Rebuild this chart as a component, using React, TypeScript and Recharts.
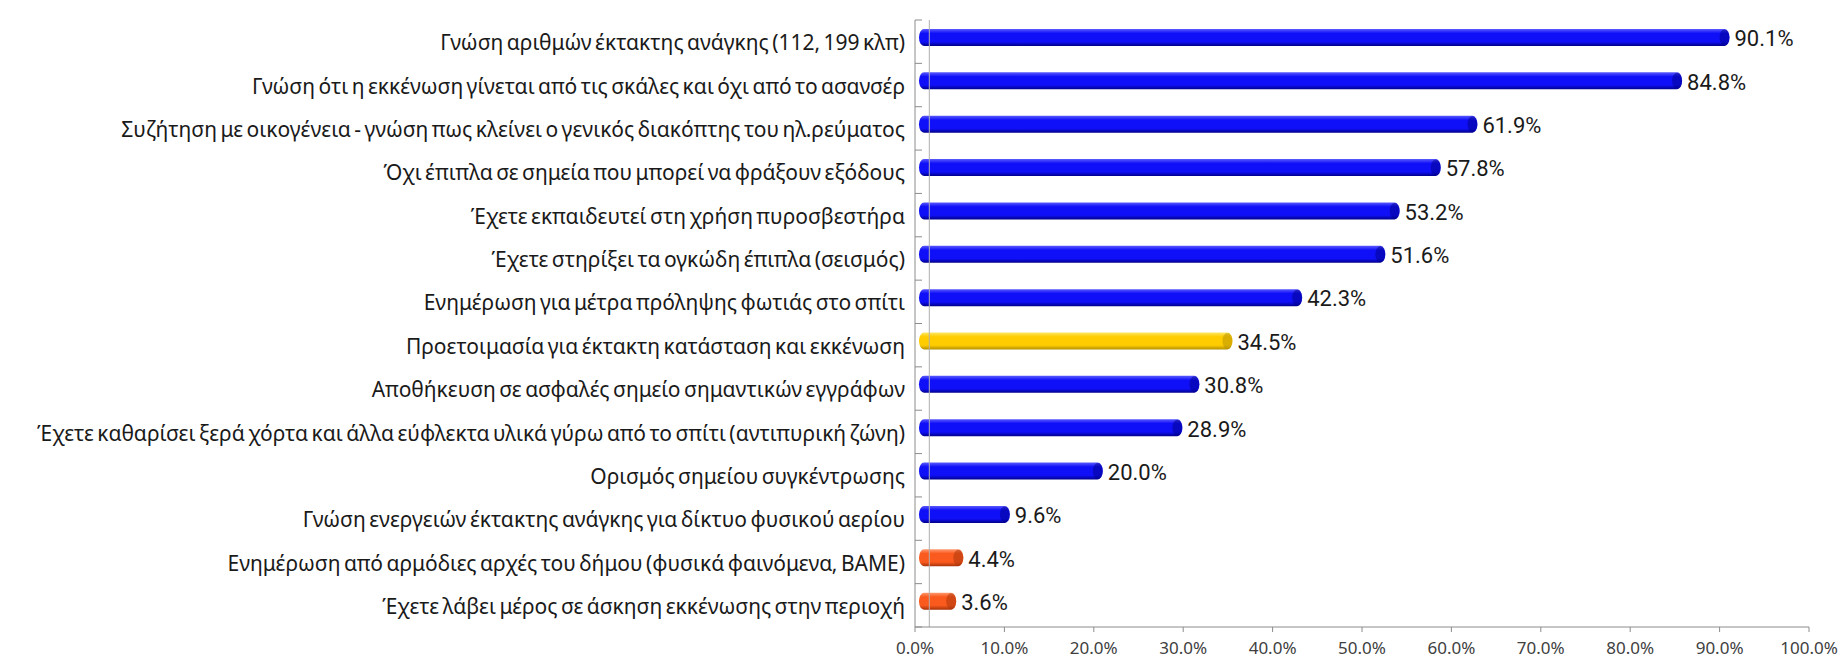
import { Bar, BarChart, Cell, LabelList, ReferenceLine, XAxis, YAxis } from 'recharts'

const categories = [
  'Γνώση αριθμών έκτακτης ανάγκης (112, 199 κλπ)',
  'Γνώση ότι η εκκένωση γίνεται από τις σκάλες και όχι από το ασανσέρ',
  'Συζήτηση με οικογένεια - γνώση πως κλείνει ο γενικός διακόπτης του ηλ.ρεύματος',
  'Όχι έπιπλα σε σημεία που μπορεί να φράξουν εξόδους',
  'Έχετε εκπαιδευτεί στη χρήση πυροσβεστήρα',
  'Έχετε στηρίξει τα ογκώδη έπιπλα (σεισμός)',
  'Ενημέρωση για μέτρα πρόληψης φωτιάς στο σπίτι',
  'Προετοιμασία για έκτακτη κατάσταση και εκκένωση',
  'Αποθήκευση σε ασφαλές σημείο σημαντικών εγγράφων',
  'Έχετε καθαρίσει ξερά χόρτα και άλλα εύφλεκτα υλικά γύρω από το σπίτι (αντιπυρική ζώνη)',
  'Ορισμός σημείου συγκέντρωσης',
  'Γνώση ενεργειών έκτακτης ανάγκης για δίκτυο φυσικού αερίου',
  'Ενημέρωση από αρμόδιες αρχές του δήμου (φυσικά φαινόμενα, ΒΑΜΕ)',
  'Έχετε λάβει μέρος σε άσκηση εκκένωσης στην περιοχή',
]

const percentages = [90.1, 84.8, 61.9, 57.8, 53.2, 51.6, 42.3, 34.5, 30.8, 28.9, 20.0, 9.6, 4.4, 3.6]

// blue = common, gold = highlighted item, red = least common
const groups = ['blue', 'blue', 'blue', 'blue', 'blue', 'blue', 'blue', 'gold', 'blue', 'blue', 'blue', 'blue', 'red', 'red']

const xTicks = [0, 10, 20, 30, 40, 50, 60, 70, 80, 90, 100]

const palette: Record<string, { light: string; mid: string; dark: string }> = {
  blue: { light: '#5a5aff', mid: '#1010f8', dark: '#00008a' },
  gold: { light: '#ffe766', mid: '#ffcc00', dark: '#b38f00' },
  red: { light: '#ff9a70', mid: '#fa5a1e', dark: '#a8330a' },
}

const chartData = categories.map((name, i) => ({
  name,
  value: percentages[i],
  group: groups[i],
}))

const WIDTH = 1841
const HEIGHT = 659
const TOP = 20
const PLOT_H = 607
const BAND = PLOT_H / categories.length

function CategoryTick(props: any) {
  const { x, y, payload } = props
  return (
    <g>
      <line x1={x + 8} x2={x + 15} y1={y - BAND / 2} y2={y - BAND / 2} stroke="#8c8c8c" />
      {payload.index === categories.length - 1 ? (
        <line x1={x + 8} x2={x + 15} y1={y + BAND / 2} y2={y + BAND / 2} stroke="#8c8c8c" />
      ) : null}
      <text
        x={x - 2}
        y={y + 3}
        textAnchor="end"
        dominantBaseline="middle"
        fontSize={21}
        fill="#1a1a1a"
        fontFamily="'Noto Sans', sans-serif"
        wordSpacing={-2}
      >
        {payload.value}
      </text>
    </g>
  )
}

function Cylinder(props: any) {
  const { x, y, width, height, payload } = props
  if (!width || width <= 0) return null
  const c = palette[payload.group]
  const id = `grad-${payload.group}`
  const yy = y - 4
  const w = width + 5
  const cap = 5
  return (
    <g>
      <defs>
        <linearGradient id={id} x1="0" y1="0" x2="0" y2="1">
          <stop offset="0%" stopColor={c.light} />
          <stop offset="25%" stopColor={c.mid} />
          <stop offset="75%" stopColor={c.mid} />
          <stop offset="100%" stopColor={c.dark} />
        </linearGradient>
      </defs>
      <rect x={x + 4} y={yy} width={w} height={height} rx={cap} ry={height / 2} fill={`url(#${id})`} />
      <ellipse cx={x + 4 + w - cap} cy={yy + height / 2} rx={cap} ry={height / 2 - 0.5} fill={c.dark} opacity={0.5} />
    </g>
  )
}

export default function App() {
  return (
    <div style={{ position: 'absolute', left: 0, top: 0, width: WIDTH, height: HEIGHT, background: '#fff' }}>
      <BarChart
        width={WIDTH}
        height={HEIGHT}
        data={chartData}
        layout="vertical"
        margin={{ top: TOP, right: 32, bottom: 0, left: 0 }}
        barCategoryGap={0}
      >
        <XAxis
          type="number"
          domain={[0, 100]}
          ticks={xTicks}
          tickFormatter={(v: number) => `${v.toFixed(1)}%`}
          height={32}
          stroke="#8c8c8c"
          tickSize={5}
          tickMargin={10}
          interval={0}
          tick={{ fill: '#404040', fontSize: 17, fontFamily: "'Noto Sans', sans-serif" }}
        />
        <YAxis
          type="category"
          dataKey="name"
          width={915}
          stroke="#8c8c8c"
          tickLine={false}
          interval={0}
          tick={<CategoryTick />}
        />
        <ReferenceLine x={1.6} stroke="#b0b0b0" />
        <Bar dataKey="value" barSize={17} isAnimationActive={false} shape={<Cylinder />}>
          {chartData.map((d) => (
            <Cell key={d.name} fill={palette[d.group].mid} />
          ))}
          <LabelList
            dataKey="value"
            position="right"
            offset={14}
            dy={-3}
            formatter={(v: any) => `${Number(v).toFixed(1)}%`}
            style={{ fill: '#1a1a1a', fontSize: 22, fontFamily: 'Roboto, sans-serif', fontWeight: 400 }}
          />
        </Bar>
      </BarChart>
    </div>
  )
}
